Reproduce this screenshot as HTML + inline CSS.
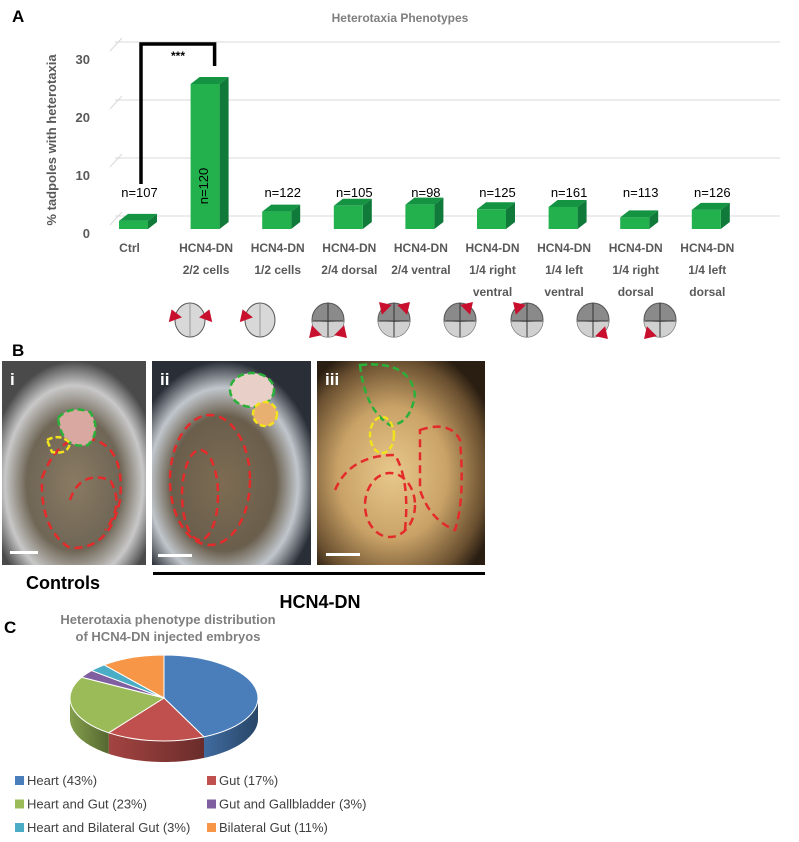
<!DOCTYPE html>
<html><head><meta charset="utf-8"><style>
html,body{margin:0;padding:0;background:#fff;}
body{width:799px;height:837px;position:relative;overflow:hidden;font-family:"Liberation Sans",Arial,sans-serif;}
svg text{font-family:"Liberation Sans",Arial,sans-serif;}
</style></head><body>
<svg id="fig" width="799" height="837" viewBox="0 0 799 837">
<defs>
<radialGradient id="g1" cx="50%" cy="60%" r="60%"><stop offset="0" stop-color="#8a7a62"/><stop offset="0.55" stop-color="#6f6656"/><stop offset="0.8" stop-color="#c8c8c8"/><stop offset="1" stop-color="#4a4a4a"/></radialGradient>
<radialGradient id="g2" cx="45%" cy="60%" r="60%"><stop offset="0" stop-color="#7d6c52"/><stop offset="0.55" stop-color="#6a5e4c"/><stop offset="0.78" stop-color="#c0c6cc"/><stop offset="1" stop-color="#2a2e36"/></radialGradient>
<radialGradient id="g3" cx="45%" cy="55%" r="65%"><stop offset="0" stop-color="#e8c88c"/><stop offset="0.5" stop-color="#c9a267"/><stop offset="0.85" stop-color="#6a5030"/><stop offset="1" stop-color="#2a1e12"/></radialGradient>
<linearGradient id="pieside" x1="0" x2="1"><stop offset="0" stop-color="#000" stop-opacity="0.15"/><stop offset="1" stop-color="#000" stop-opacity="0.45"/></linearGradient>
</defs>
<text x="12" y="22" font-size="17" font-weight="bold">A</text>
<text x="400" y="22" font-size="12" font-weight="bold" fill="#7f7f7f" text-anchor="middle">Heterotaxia Phenotypes</text>
<g id="barchart"></g>

<text x="12" y="356" font-size="17" font-weight="bold">B</text>
<g>
<rect x="2" y="361" width="144" height="204" fill="url(#g1)"/>
<path d="M42 478 Q60 430 95 440 Q125 450 120 500 Q110 550 70 548 Q40 530 42 478Z" fill="none" stroke="#e52a2a" stroke-width="2.5" stroke-dasharray="8 5"/>
<path d="M70 500 Q80 470 110 480 Q125 505 105 530" fill="none" stroke="#e52a2a" stroke-width="2.5" stroke-dasharray="8 5"/>
<path d="M58 418 Q70 405 90 412 Q102 430 88 445 Q62 450 58 418Z" fill="#d9a8a0" stroke="#2bb03a" stroke-width="2.5" stroke-dasharray="7 4"/>
<path d="M47 440 Q60 433 70 443 Q68 455 52 452Z" fill="none" stroke="#f2e21d" stroke-width="2.5" stroke-dasharray="6 3"/>
<text x="10" y="385" font-size="17" font-weight="bold" fill="#fff">i</text>
<rect x="10" y="551" width="28" height="3" fill="#fff"/>
</g>
<g>
<rect x="152" y="361" width="159" height="204" fill="url(#g2)"/>
<ellipse cx="210" cy="480" rx="40" ry="65" fill="none" stroke="#e52a2a" stroke-width="2.5" stroke-dasharray="8 5"/>
<ellipse cx="200" cy="495" rx="18" ry="45" fill="none" stroke="#e52a2a" stroke-width="2.5" stroke-dasharray="8 5"/>
<ellipse cx="252" cy="390" rx="22" ry="17" fill="#e8d0c8" stroke="#2bb03a" stroke-width="2.5" stroke-dasharray="7 4"/>
<ellipse cx="265" cy="414" rx="12" ry="12" fill="#e8b070" stroke="#f2e21d" stroke-width="2.5" stroke-dasharray="6 3"/>
<text x="160" y="385" font-size="17" font-weight="bold" fill="#fff">ii</text>
<rect x="158" y="554" width="34" height="3" fill="#fff"/>
</g>
<g>
<rect x="317" y="361" width="168" height="204" fill="url(#g3)"/>
<path d="M335 490 Q350 455 395 455 Q410 480 405 530" fill="none" stroke="#e52a2a" stroke-width="2.5" stroke-dasharray="8 5"/>
<ellipse cx="390" cy="505" rx="25" ry="32" fill="none" stroke="#e52a2a" stroke-width="2.5" stroke-dasharray="8 5"/>
<path d="M420 430 Q450 420 460 440 Q465 500 455 530 Q430 520 420 490Z" fill="none" stroke="#e52a2a" stroke-width="2.5" stroke-dasharray="8 5"/>
<path d="M360 365 Q410 360 415 395 Q410 425 390 425 Q365 410 360 365Z" fill="none" stroke="#2bb03a" stroke-width="2.5" stroke-dasharray="7 4"/>
<ellipse cx="382" cy="435" rx="12" ry="18" fill="none" stroke="#f2e21d" stroke-width="2.5" stroke-dasharray="6 3"/>
<text x="325" y="385" font-size="17" font-weight="bold" fill="#fff">iii</text>
<rect x="326" y="553" width="34" height="3" fill="#fff"/>
</g>
<text x="63" y="589" font-size="18" font-weight="bold" text-anchor="middle">Controls</text>
<rect x="153" y="572" width="332" height="3" fill="#000"/>
<text x="320" y="608" font-size="18" font-weight="bold" text-anchor="middle">HCN4-DN</text>

<text x="4" y="633" font-size="17" font-weight="bold">C</text>
<text x="168" y="624" font-size="13" font-weight="bold" fill="#7f7f7f" text-anchor="middle">Heterotaxia phenotype distribution</text>
<text x="168" y="641" font-size="13" font-weight="bold" fill="#7f7f7f" text-anchor="middle">of HCN4-DN injected embryos</text>
<g id="pie"></g>
<g id="legend"></g>
</svg>
<script>
const categoriesLine1 = ["Ctrl","HCN4-DN","HCN4-DN","HCN4-DN","HCN4-DN","HCN4-DN","HCN4-DN","HCN4-DN","HCN4-DN"];
const categoriesLine2 = ["","2/2 cells","1/2 cells","2/4 dorsal","2/4 ventral","1/4 right","1/4 left","1/4 right","1/4 left"];
const categoriesLine3 = ["","","","","","ventral","ventral","dorsal","dorsal"];
const heterotaxiaPct = [1.4, 25, 3, 4, 4.2, 3.4, 3.8, 2, 3.3];
const nLabels = ["n=107","n=120","n=122","n=105","n=98","n=125","n=161","n=113","n=126"];
const yTicks = [0,10,20,30];
const pieLabels = ["Heart (43%)","Gut (17%)","Heart and Gut (23%)","Gut and Gallbladder (3%)","Heart and Bilateral Gut (3%)","Bilateral Gut (11%)"];
const pieValues = [43,17,23,3,3,11];
const pieColors = ["#4a7ebb","#c0504d","#9bbb59","#7f5fa0","#4bacc6","#f79646"];

const NS="http://www.w3.org/2000/svg";
function mk(tag,attrs,parent,txt){const e=document.createElementNS(NS,tag);for(const k in attrs)e.setAttribute(k,attrs[k]);if(txt!==undefined)e.textContent=txt;parent.appendChild(e);return e;}

// bar chart
const bc=document.getElementById('barchart');
const baseY=229, pxPerUnit=5.8, x0=119, step=71.6, bw=29, dx=9, dy=7;
function yScale(v){return baseY-v*pxPerUnit;}
function xScale(i){return x0+i*step;}
yTicks.forEach(t=>{
  const y=yScale(t);
  const g=mk('line',{x1:x0-4+dx-14,y1:y-dy+3,x2:x0+dx-6,y2:y-dy-10,stroke:'#d9d9d9'},bc);
  
  
  const l=mk('line',{x1:x0-4,y1:y-13,x2:780,y2:y-13,stroke:'#d9d9d9'},bc);
  
  
  const tx=mk('text',{x:90,y:y+9,'font-size':13,'font-weight':'bold',fill:'#595959','text-anchor':'end'},bc,String(t));
  
  
});
const yt=mk('text',{x:0,y:0,'font-size':13,'font-weight':'bold',fill:'#595959','text-anchor':'middle',transform:'translate(56,140) rotate(-90)'},bc,'% tadpoles with heterotaxia');


heterotaxiaPct.forEach((v,i)=>{
  const x=xScale(i), top=yScale(v), h=baseY-top;
  const g=mk('g',{},bc);
  
  
  mk('polygon',{points:`${x+bw},${top} ${x+bw+dx},${top-dy} ${x+bw+dx},${baseY-dy} ${x+bw},${baseY}`,fill:'#0f7a3a'},g);
  mk('polygon',{points:`${x},${top} ${x+dx},${top-dy} ${x+bw+dx},${top-dy} ${x+bw},${top}`,fill:'#149443'},g);
  mk('rect',{x:x,y:top,width:bw,height:h,fill:'#22b14c'},g);
  const cx=x+bw/2+4;
  if(i===1){
    const t=mk('text',{x:0,y:0,'font-size':13,fill:'#000','text-anchor':'middle',transform:`translate(${cx-1},${baseY-43}) rotate(-90)`},bc,nLabels[i]);
    
    
  } else {
    const t=mk('text',{x:cx+2,y:197,'font-size':13,fill:'#000','text-anchor':'middle'},bc,nLabels[i]);
    
    
  }
  const lc=x+bw/2-4+(i===0?0:5);
  [categoriesLine1[i],categoriesLine2[i],categoriesLine3[i]].forEach((s,k)=>{
    if(!s)return;
    const t=mk('text',{x:lc,y:252+k*22,'font-size':12,'font-weight':'bold',fill:'#595959','text-anchor':'middle'},bc,s);
    
    
  });
});
const br=mk('path',{d:`M${xScale(0)+22},184 V44 H${xScale(1)+24} V66`,fill:'none',stroke:'#000','stroke-width':3.5},bc);


const st=mk('text',{x:178,y:60,'font-size':12,'font-weight':'bold','text-anchor':'middle'},bc,'***');


const embX=[190,260,328,394,460,527,593,660];
embX.forEach((ex,k)=>{
  const g=mk('g',{},bc);
  
  
  const light=k<2;
  mk('ellipse',{cx:ex,cy:320,rx:light?15:16,ry:17,fill:light?'#d8d8d8':'#8a8a8a',stroke:'#555','stroke-width':1},g);
  if(!light){mk('path',{d:`M${ex-16},320 Q${ex},324 ${ex+16},320 A16 17 0 0 1 ${ex-16},320Z`,fill:'#d0d0d0'},g);
    mk('line',{x1:ex,y1:303,x2:ex,y2:337,stroke:'#333'},g);mk('line',{x1:ex-16,y1:321,x2:ex+16,y2:321,stroke:'#333'},g);}
  else mk('line',{x1:ex,y1:304,x2:ex,y2:336,stroke:'#999'},g);
});
function arrow(x,y,ang){const g=mk('polygon',{points:'0,-7 7,4 -7,4',fill:'#c8102e',transform:`translate(${x},${y}) rotate(${ang})`},bc);}
arrow(174,316,-20);arrow(207,316,20);arrow(245,316,-20);
arrow(314,333,-135);arrow(342,333,135);arrow(384,307,-45);arrow(405,307,45);
arrow(468,307,45);arrow(518,307,-45);arrow(603,334,135);arrow(649,334,-135);

// pie
const pie=document.getElementById('pie');
const cx=164, cy=698, rx=94, ry=43, depth=21;
const total=pieValues.reduce((a,b)=>a+b,0);
function pt(a,d){return [cx+rx*Math.sin(a), cy-ry*Math.cos(a)+(d||0)];}
let acc=0;
const angles=pieValues.map(v=>{const s=acc/total*2*Math.PI;acc+=v;return [s,acc/total*2*Math.PI];});
angles.forEach(([s,e],i)=>{
  const a0=Math.max(s,Math.PI/2), a1=Math.min(e,3*Math.PI/2);
  if(a1<=a0)return;
  const n=30;let d='';
  for(let k=0;k<=n;k++){const a=a0+(a1-a0)*k/n;const p=pt(a);d+=(k?'L':'M')+p[0].toFixed(1)+','+p[1].toFixed(1);}
  for(let k=n;k>=0;k--){const a=a0+(a1-a0)*k/n;const p=pt(a,depth);d+='L'+p[0].toFixed(1)+','+p[1].toFixed(1);}
  const g=mk('g',{},pie);
  
  
  mk('path',{d:d+'Z',fill:pieColors[i]},g);
  mk('path',{d:d+'Z',fill:'url(#pieside)'},g);
});
angles.forEach(([s,e],i)=>{
  const p0=pt(s),p1=pt(e);const large=(e-s)>Math.PI?1:0;
  const sl=mk('path',{d:`M${cx},${cy} L${p0[0]},${p0[1]} A${rx},${ry} 0 ${large} 1 ${p1[0]},${p1[1]} Z`,fill:pieColors[i],stroke:'#fff','stroke-width':1},pie);
  
  
});
const lg=document.getElementById('legend');
pieLabels.forEach((s,i)=>{
  const x=i%2===0?15:207, y=785+Math.floor(i/2)*23.5;
  const g=mk('g',{},lg);
  
  
  mk('rect',{x:x,y:y-9,width:9,height:9,fill:pieColors[i]},g);
  mk('text',{x:x+12,y:y,'font-size':13,fill:'#404040'},g,s);
});
</script>
</body></html>
